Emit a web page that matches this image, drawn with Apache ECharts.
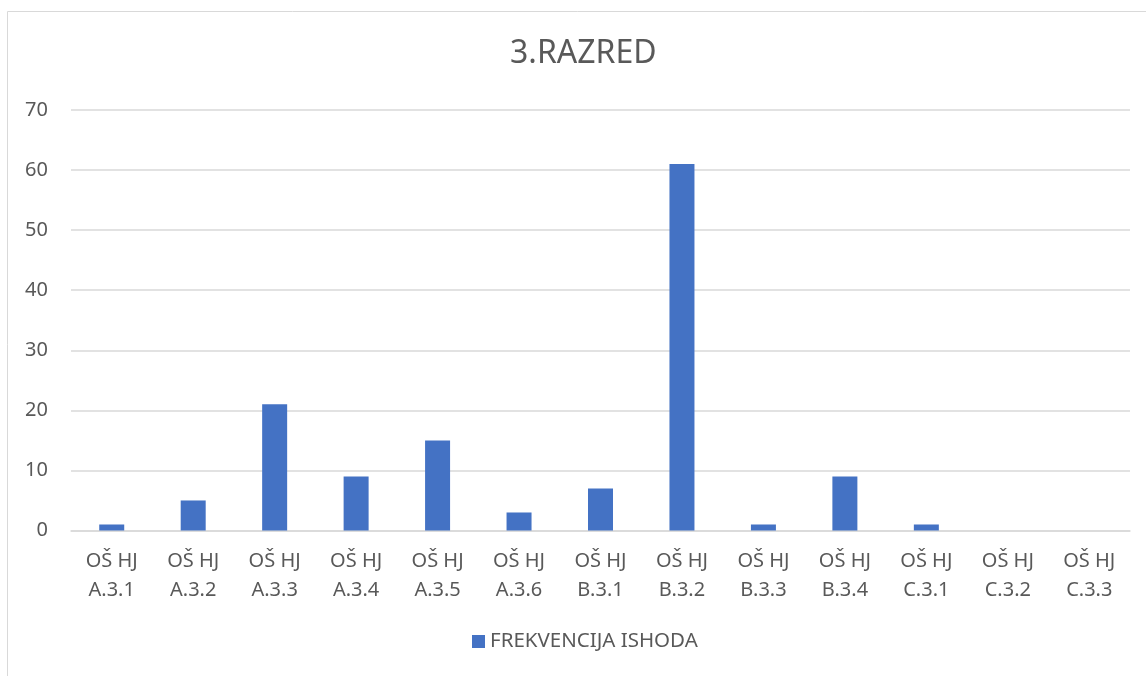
<!DOCTYPE html>
<html><head><meta charset="utf-8">
<script src="https://cdn.jsdelivr.net/npm/echarts@6/dist/echarts.min.js"></script>
<style>html,body{margin:0;padding:0;background:#fff}#c{width:1146px;height:676px}</style>
</head><body><div id="c"></div>
<script>
const categories = ['OŠ HJ\nA.3.1','OŠ HJ\nA.3.2','OŠ HJ\nA.3.3','OŠ HJ\nA.3.4','OŠ HJ\nA.3.5','OŠ HJ\nA.3.6','OŠ HJ\nB.3.1','OŠ HJ\nB.3.2','OŠ HJ\nB.3.3','OŠ HJ\nB.3.4','OŠ HJ\nC.3.1','OŠ HJ\nC.3.2','OŠ HJ\nC.3.3'];
const values = [1,5,21,9,15,3,7,61,1,9,1,0,0];
const seriesName = 'FREKVENCIJA ISHODA';
const titleText = '3.RAZRED';
const font = 'Noto Sans';
const chart = echarts.init(document.getElementById('c'), null, {renderer:'canvas'});
chart.setOption({
  animation:false,
  graphic:[{type:'rect',shape:{x:7.5,y:11.5,width:1160,height:700},style:{fill:'none',stroke:'#d9d9d9',lineWidth:1},silent:true}],
  title:{text:titleText,left:505,top:33,textStyle:{fontFamily:font,fontSize:32,fontWeight:'normal',color:'#595959'}},
  grid:{left:71,right:16,top:110,bottom:145.5,containLabel:false},
  legend:{data:[seriesName],bottom:19,left:467,itemWidth:13,itemHeight:13,itemGap:7,icon:'rect',
    textStyle:{fontFamily:font,fontSize:20.5,color:'#595959'}},
  xAxis:{type:'category',data:categories,axisTick:{show:false},
    axisLine:{lineStyle:{color:'#d9d9d9',width:1.5}},
    axisLabel:{interval:0,fontFamily:font,fontSize:20,color:'#595959',lineHeight:29,margin:16}},
  yAxis:{type:'value',min:0,max:70,interval:10,
    axisLabel:{fontFamily:font,fontSize:20,color:'#595959',margin:23},
    axisLine:{show:false},axisTick:{show:false},
    splitLine:{lineStyle:{color:'#d9d9d9',width:1.5}}},
  series:[{name:seriesName,type:'bar',data:values,barWidth:25,itemStyle:{color:'#4472c4'}}]
});
</script></body></html>
